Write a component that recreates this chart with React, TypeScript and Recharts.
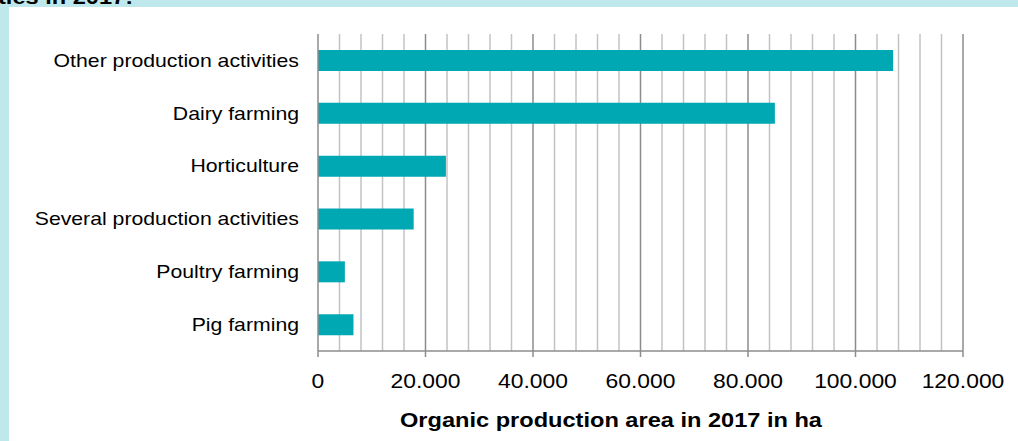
import React from 'react';
import { BarChart, Bar, XAxis, YAxis, CartesianGrid, Label } from 'recharts';

const categories = [
  'Other production activities',
  'Dairy farming',
  'Horticulture',
  'Several production activities',
  'Poultry farming',
  'Pig farming',
];
const areaHa = [107000, 85000, 23800, 17800, 5000, 6600];
const xTicks = [0, 20000, 40000, 60000, 80000, 100000, 120000];
const xTickLabels = ['0', '20.000', '40.000', '60.000', '80.000', '100.000', '120.000'];
const minorGrid = [
  4000, 8000, 12000, 16000, 24000, 28000, 32000, 36000, 44000, 48000, 52000, 56000,
  64000, 68000, 72000, 76000, 84000, 88000, 92000, 96000, 104000, 108000, 112000, 116000,
];
const majorGrid = [20000, 40000, 60000, 80000, 100000, 120000];
const axisTitle = 'Organic production area in 2017 in ha';
const headerFragment = 'ties in 2017:';

const data = categories.map((name, i) => ({ name, value: areaHa[i] }));

const FONT = '"Liberation Sans", Arial, sans-serif';
const SX = 1.18;

const stretch = (x: number, y: number, s: number) =>
  `translate(${x},${y}) scale(${s},1) translate(${-x},${-y})`;

const YTick = (props: any) => {
  const { x, y, payload } = props;
  return (
    <text
      x={x}
      y={y}
      dy="0.355em"
      textAnchor="end"
      fontFamily={FONT}
      fontSize={18}
      fill="#000"
      transform={stretch(x, y, SX)}
    >
      {payload.value}
    </text>
  );
};

const XTick = (props: any) => {
  const { x, y, payload } = props;
  const idx = xTicks.indexOf(payload.value);
  const label = idx >= 0 ? xTickLabels[idx] : String(payload.value);
  return (
    <text
      x={x}
      y={y + 29}
      textAnchor="middle"
      fontFamily={FONT}
      fontSize={21}
      fill="#000"
      transform={stretch(x, y, 1.09)}
    >
      {label}
    </text>
  );
};

const AxisTitle = (props: any) => {
  const vb = props.viewBox || {};
  const cx = 611;
  const cy = (vb.y || 0) + 76;
  return (
    <text
      x={cx}
      y={cy}
      textAnchor="middle"
      fontFamily={FONT}
      fontWeight="bold"
      fontSize={20}
      fill="#000"
      transform={stretch(cx, cy, 1.18)}
    >
      {axisTitle}
    </text>
  );
};

export default function App() {
  return (
    <div
      style={{
        position: 'fixed',
        left: 0,
        top: 0,
        width: 1018,
        height: 441,
        background: '#bfe8ec',
        overflow: 'hidden',
      }}
    >
      <div
        style={{
          position: 'absolute',
          left: 9,
          top: 7,
          right: 0,
          bottom: 0,
          background: '#ffffff',
        }}
      />
      <svg
        width={1018}
        height={30}
        style={{ position: 'absolute', left: 0, top: 0 }}
      >
        <text
          x={-2}
          y={4}
          fontFamily={FONT}
          fontWeight="bold"
          fontSize={20}
          fill="#000"
          transform={stretch(-2, 4, SX)}
        >
          {headerFragment}
        </text>
      </svg>
      <div style={{ position: 'absolute', left: 0, top: 0 }}>
        <BarChart
          width={1018}
          height={441}
          data={data}
          layout="vertical"
          margin={{ top: 34, right: 55, bottom: 0, left: 0 }}
          barCategoryGap={0}
        >
          <CartesianGrid
            horizontal={false}
            vertical={true}
            verticalValues={minorGrid}
            stroke="#c3c3c3"
            strokeWidth={1.5}
          />
          <CartesianGrid
            horizontal={false}
            vertical={true}
            verticalValues={majorGrid}
            stroke="#8c8c8c"
            strokeWidth={1.5}
          />
          <XAxis
            type="number"
            domain={[0, 120000]}
            ticks={xTicks}
            interval={0}
            height={90}
            tickSize={6}
            tickMargin={2}
            axisLine={{ stroke: '#8c8c8c', strokeWidth: 1.5 }}
            tickLine={{ stroke: '#8c8c8c', strokeWidth: 1.5 }}
            tick={<XTick />}
          >
            <Label content={<AxisTitle />} />
          </XAxis>
          <YAxis
            type="category"
            dataKey="name"
            width={318}
            tickSize={0}
            tickMargin={19}
            tickLine={false}
            axisLine={{ stroke: '#8c8c8c', strokeWidth: 1.5 }}
            tick={<YTick />}
            interval={0}
          />
          <Bar
            dataKey="value"
            fill="#00a8b4"
            barSize={21}
            isAnimationActive={false}
          />
        </BarChart>
      </div>
    </div>
  );
}
